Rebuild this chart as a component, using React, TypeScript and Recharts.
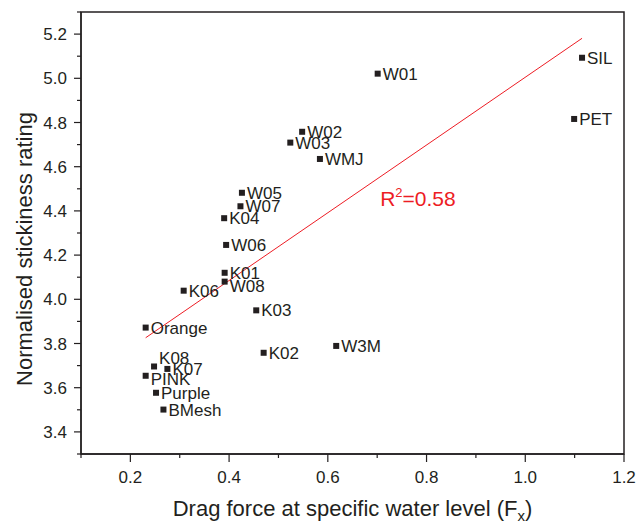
import React from "react";
import {
  ScatterChart,
  Scatter,
  XAxis,
  YAxis,
  ReferenceLine,
  ReferenceDot,
} from "recharts";

const NAMES = ["W01", "SIL", "PET", "W02", "W03", "WMJ", "W05", "W07", "K04", "W06", "K01", "W08", "K06", "K03", "Orange", "K02", "W3M", "K08", "K07", "PINK", "Purple", "BMesh"];
const FORCE = [0.701, 1.115, 1.099, 0.548, 0.524, 0.584, 0.426, 0.423, 0.39, 0.394, 0.391, 0.391, 0.308, 0.455, 0.231, 0.47, 0.617, 0.248, 0.275, 0.231, 0.252, 0.267];
const RATING = [5.021, 5.093, 4.816, 4.758, 4.709, 4.635, 4.482, 4.421, 4.367, 4.246, 4.12, 4.08, 4.039, 3.95, 3.872, 3.758, 3.789, 3.696, 3.685, 3.654, 3.577, 3.501];

const X_TICKS = [0.1, 0.2, 0.3, 0.4, 0.5, 0.6, 0.7, 0.8, 0.9, 1.0, 1.1, 1.2];
const Y_TICKS = [3.3, 3.4, 3.5, 3.6, 3.7, 3.8, 3.9, 4.0, 4.1, 4.2, 4.3, 4.4, 4.5, 4.6, 4.7, 4.8, 4.9, 5.0, 5.1, 5.2, 5.3];
const X_DOMAIN = [0.1, 1.2];
const Y_DOMAIN = [3.3, 5.3];

// linear fit, endpoints
const FIT_X = [0.231, 1.115];
const FIT_Y = [3.826, 5.181];
const R2_TEXT = "0.58";

// some labels sit a little off the marker's centre line
const LABEL_NUDGE: Record<string, number> = { K08: -8, PINK: 3, W08: 4 };

const data = NAMES.map((name, i) => ({ name, x: FORCE[i], y: RATING[i] }));

const MARGIN = { top: 12, right: 14, bottom: 0, left: 0 };
const FONT = "'Liberation Sans', Arial, sans-serif";
const INK = "#231f20";
const RED = "#ed1c24";

const isMajor = (v: number) => Math.round(v * 10) % 2 === 0;

const XTick = (props: any) => {
  const { x, y, payload } = props;
  const major = isMajor(payload.value);
  return (
    <g>
      <line x1={x} x2={x} y1={y} y2={y + (major ? 8 : 4)} stroke={INK} strokeWidth={1.2} />
      {major && (
        <text x={x} y={y + 29} textAnchor="middle" fontSize={17} fontFamily={FONT} fill={INK}>
          {payload.value.toFixed(1)}
        </text>
      )}
    </g>
  );
};

const YTick = (props: any) => {
  const { x, y, payload } = props;
  const major = isMajor(payload.value);
  return (
    <g>
      <line x1={x} x2={x - (major ? 7 : 4)} y1={y} y2={y} stroke={INK} strokeWidth={1.2} />
      {major && (
        <text x={x - 14} y={y} dy={6} textAnchor="end" fontSize={17} fontFamily={FONT} fill={INK}>
          {payload.value.toFixed(1)}
        </text>
      )}
    </g>
  );
};

// x title, plus the box around the plot area
const XTitle = (props: any) => {
  const vb = props.viewBox;
  return (
    <g>
      <rect
        x={vb.x}
        y={MARGIN.top}
        width={vb.width}
        height={vb.y - MARGIN.top}
        fill="none"
        stroke={INK}
        strokeWidth={1.5}
      />
      <text x={vb.x + vb.width / 2} y={vb.y + 62} textAnchor="middle" fontSize={22} fontFamily={FONT} fill={INK}>
        Drag force at specific water level (F
        <tspan fontSize={15} dy={5}>x</tspan>
        <tspan dy={-5}>)</tspan>
      </text>
    </g>
  );
};

const YTitle = (props: any) => {
  const vb = props.viewBox;
  const cx = 32;
  const cy = vb.y + vb.height / 2 + 16;
  return (
    <text x={cx} y={cy} transform={`rotate(-90, ${cx}, ${cy})`} textAnchor="middle" fontSize={22} fontFamily={FONT} fill={INK}>
      Normalised stickiness rating
    </text>
  );
};

const Point = (props: any) => {
  const { cx, cy, payload } = props;
  const nudge = LABEL_NUDGE[payload.name] || 0;
  return (
    <g>
      <rect x={cx - 3} y={cy - 3} width={6} height={6} fill={INK} />
      <text x={cx + 5} y={cy + nudge} dy={6} fontSize={17} fontFamily={FONT} fill={INK}>
        {payload.name}
      </text>
    </g>
  );
};

const R2Label = (props: any) => {
  const { cx, cy } = props;
  return (
    <text x={cx} y={cy} fontSize={21} fontFamily={FONT} fill={RED}>
      R<tspan fontSize={13} dy={-9}>2</tspan>
      <tspan dy={9}>={R2_TEXT}</tspan>
    </text>
  );
};

export default function App() {
  return (
    <div style={{ position: "absolute", left: 0, top: 0 }}>
      <ScatterChart width={638} height={523} margin={MARGIN}>
        <XAxis
          dataKey="x"
          type="number"
          domain={X_DOMAIN}
          ticks={X_TICKS}
          interval={0}
          allowDataOverflow
          height={69}
          tickSize={0}
          tickMargin={0}
          tickLine={false}
          axisLine={{ stroke: INK, strokeWidth: 1.3 }}
          tick={<XTick />}
          label={<XTitle />}
        />
        <YAxis
          dataKey="y"
          type="number"
          domain={Y_DOMAIN}
          ticks={Y_TICKS}
          interval={0}
          allowDataOverflow
          width={81}
          tickSize={0}
          tickMargin={0}
          tickLine={false}
          axisLine={{ stroke: INK, strokeWidth: 1.3 }}
          tick={<YTick />}
          label={<YTitle />}
        />
        <ReferenceLine
          segment={[
            { x: FIT_X[0], y: FIT_Y[0] },
            { x: FIT_X[1], y: FIT_Y[1] },
          ]}
          stroke={RED}
          strokeWidth={1}
        />
        <ReferenceDot x={0.706} y={4.42} r={0} shape={<R2Label />} />
        <Scatter data={data} shape={<Point />} isAnimationActive={false} />
      </ScatterChart>
    </div>
  );
}
